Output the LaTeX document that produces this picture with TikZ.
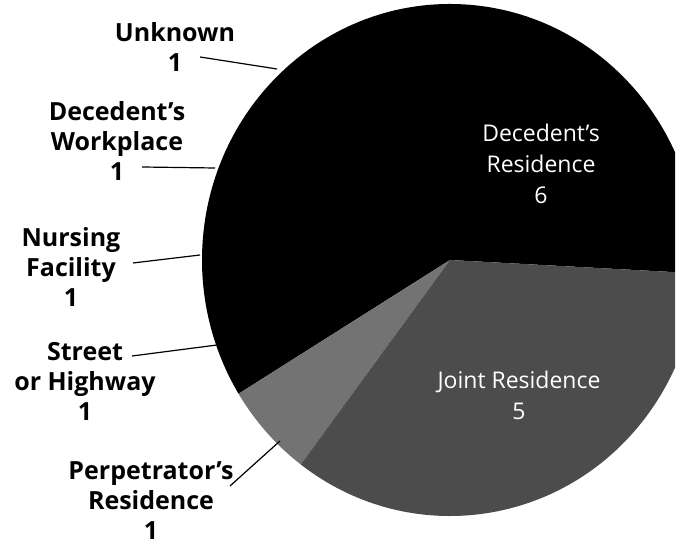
\documentclass[tikz,border=0pt]{standalone}
\usepackage{fontspec}
\setmainfont{Open Sans}
\usetikzlibrary{positioning}
\definecolor{jointgray}{gray}{0.30}
\definecolor{perpgray}{gray}{0.45}
\tikzset{
  x=1pt, y=1pt,
  outer/.style={align=center, font=\bfseries\fontsize{25}{30}\selectfont},
  inner/.style={align=center, text=white, font=\fontsize{23}{31}\selectfont},
  leader/.style={line width=1.2pt}
}

\begin{document}
\begin{tikzpicture}
    \useasboundingbox (0,0) rectangle (680,546);
    \coordinate (pc) at (450,286);

    % pie, cut at the right like the scan
    \begin{scope}
      \clip (0,0) rectangle (675,546);
      \fill[black] (pc) -- +(357:248 and 256)
        arc[start angle=357, end angle=571.5, x radius=248, y radius=256] -- cycle;
      \fill[perpgray] (pc) -- +(211.5:248 and 256)
        arc[start angle=211.5, end angle=233, x radius=248, y radius=256] -- cycle;
      \fill[jointgray] (pc) -- +(233:248 and 256)
        arc[start angle=233, end angle=357, x radius=248, y radius=256] -- cycle;
    \end{scope}

    \node[inner] (decres) at (541,382) {Decedent’s\\Residence\\6};
    \node[inner] (joint) at (519,151) {Joint Residence\\5};

    \node[outer] (unknown) at (175,499) {Unknown\\1};
    \node[outer] (workplace) at (117,405) {Decedent’s\\Workplace\\1};
    \node[outer] (nursing) at (71,279) {Nursing\\Facility\\1};
    \node[outer] (street) at (85,165) {Street\\or Highway\\1};
    \node[outer] (perp) at (151,45) {Perpetrator’s\\Residence\\1};

    \coordinate (unknown-a) at (200,489);
    \coordinate (unknown-b) at (277,477);
    \coordinate (workplace-a) at (142,379);
    \coordinate (workplace-b) at (215,378);
    \coordinate (nursing-a) at (133,283);
    \coordinate (nursing-b) at (200,291);
    \coordinate (street-a) at (132,190);
    \coordinate (street-b) at (217,201);
    \coordinate (perp-a) at (230,60);
    \coordinate (perp-b) at (280,105);

    \draw[leader] (unknown-a) -- (unknown-b);
    \draw[leader] (workplace-a) -- (workplace-b);
    \draw[leader] (nursing-a) -- (nursing-b);
    \draw[leader] (street-a) -- (street-b);
    \draw[leader] (perp-a) -- (perp-b);
\end{tikzpicture}
\end{document}
